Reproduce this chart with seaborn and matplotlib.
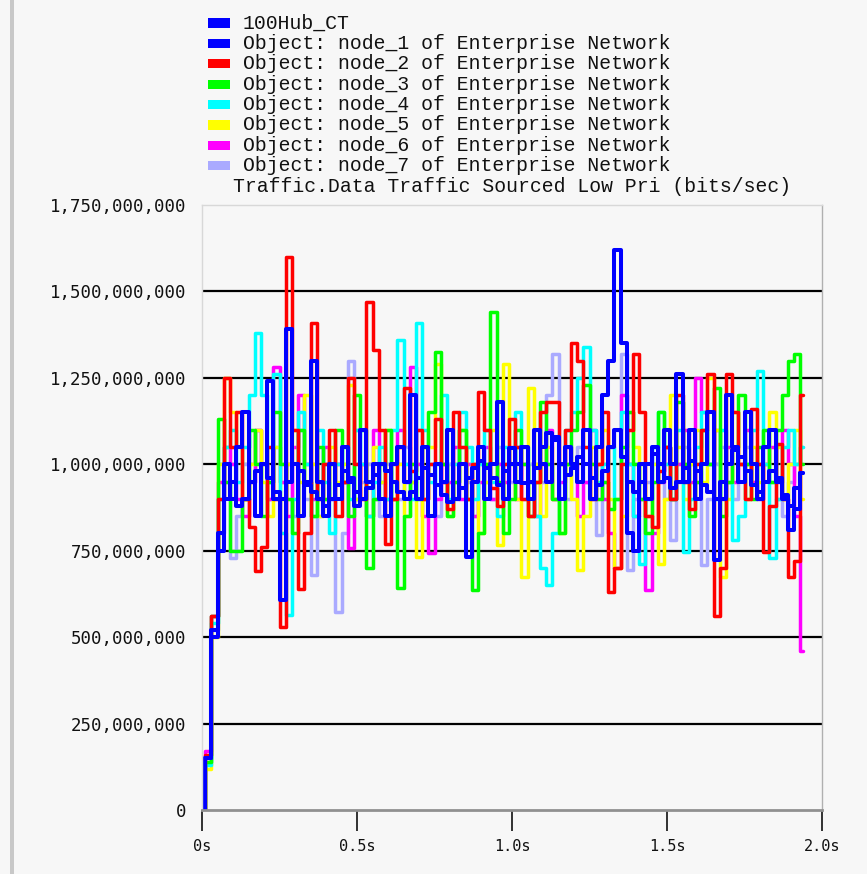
import numpy as np
import pandas as pd
import matplotlib
matplotlib.use("Agg")
import matplotlib.pyplot as plt
import seaborn as sns
from matplotlib.patches import Rectangle

sns.set_theme(style="white")
plt.rcParams['font.family'] = ['Liberation Mono', 'DejaVu Sans Mono']

# ---------------- data (values in millions of bits/sec) ----------------
series_names = [
    "100Hub_CT",
    "Object: node_1 of Enterprise Network",
    "Object: node_2 of Enterprise Network",
    "Object: node_3 of Enterprise Network",
    "Object: node_4 of Enterprise Network",
    "Object: node_5 of Enterprise Network",
    "Object: node_6 of Enterprise Network",
    "Object: node_7 of Enterprise Network",
]
series_colors = ["#0000ff", "#0000ff", "#ff0000", "#00ff00",
                 "#00ffff", "#ffff00", "#ff00ff", "#aaaaff"]

sample_step = 0.02  # seconds between samples

hub = [0, 150, 500, 750, 900, 950, 880, 900, 950, 980,
       1000, 960, 920, 900, 950, 1000, 980, 940, 920, 900,
       880, 900, 940, 980, 960, 920, 900, 930, 970, 1000,
       980, 950, 920, 900, 920, 960, 990, 970, 940, 910,
       890, 900, 930, 960, 990, 1010, 990, 960, 940, 980,
       1047, 1000, 945, 950, 990, 1050, 1090, 1070, 1000, 970,
       990, 1020, 1000, 960, 940, 980, 1050, 1100, 1020, 950,
       920, 950, 1000, 1030, 1000, 960, 930, 950, 990, 1010,
       980, 940, 920, 900, 950, 1000, 1040, 1020, 980, 940,
       920, 950, 980, 960, 910, 880, 930, 975]

node_1 = [0, 150, 520, 800, 1000, 900, 1050, 1150, 950, 850,
          1000, 1240, 900, 607, 1390, 1000, 850, 950, 1300, 950,
          850, 1000, 900, 1050, 950, 880, 1100, 950, 1000, 900,
          850, 1000, 1050, 950, 1200, 900, 1050, 850, 1000, 950,
          1100, 900, 1000, 732, 950, 1050, 900, 1000, 1180, 900,
          1000, 950, 1050, 900, 1100, 1000, 950, 1080, 900, 1050,
          1000, 950, 1100, 900, 1050, 1200, 1300, 1620, 1350, 800,
          750, 1000, 900, 1050, 950, 1100, 1000, 1260, 950, 1100,
          900, 1000, 1150, 723, 900, 1200, 1050, 950, 1150, 1000,
          900, 1050, 1100, 950, 900, 810, 870, 975]

node_2 = [0, 160, 560, 900, 1250, 1050, 1150, 900, 820, 690,
          760, 1050, 900, 530, 1600, 1100, 640, 800, 1410, 900,
          1000, 1100, 850, 950, 1250, 1000, 900, 1470, 1330, 1100,
          770, 900, 1050, 1220, 980, 1100, 900, 1000, 1130, 950,
          870, 1150, 1050, 900, 1000, 1210, 1100, 930, 880, 1000,
          1130, 1050, 900, 850, 950, 1150, 1180, 1180, 1000, 1100,
          1350, 1300, 1050, 900, 1000, 1150, 630, 700, 1000, 1100,
          1320, 1150, 850, 820, 980, 1050, 900, 1200, 950, 870,
          1000, 1100, 1260, 560, 700, 1260, 1150, 1000, 900, 1160,
          1000, 745, 880, 1060, 900, 675, 720, 1200]

node_3 = [0, 140, 560, 1130, 950, 750, 750, 900, 1100, 1000,
          850, 950, 1150, 1000, 900, 800, 1100, 950, 850, 1050,
          900, 1000, 1100, 950, 850, 1200, 1100, 700, 900, 1000,
          1100, 900, 642, 850, 1000, 900, 1050, 1150, 1325, 1000,
          850, 950, 1100, 900, 637, 800, 1000, 1440, 950, 800,
          900, 1100, 1000, 850, 950, 1180, 1000, 900, 800, 1000,
          1100, 1150, 1230, 1000, 900, 950, 870, 900, 1050, 1150,
          1000, 900, 800, 950, 1150, 1050, 900, 1180, 1000, 850,
          950, 1100, 1000, 1220, 850, 950, 1050, 1200, 1000, 900,
          1050, 1100, 950, 1100, 1200, 1300, 1320, 1000]

node_4 = [0, 130, 540, 900, 1050, 1100, 950, 1050, 1200, 1380,
          1200, 950, 1260, 800, 564, 900, 1150, 1000, 850, 1100,
          950, 800, 1000, 1050, 900, 1100, 1000, 850, 950, 1050,
          900, 1100, 1360, 1000, 900, 1410, 1100, 950, 1000, 1200,
          900, 1000, 1150, 1050, 900, 1000, 1100, 950, 850, 1050,
          1000, 1150, 1050, 950, 850, 700, 650, 800, 1000, 1100,
          1150, 1250, 1340, 1100, 950, 1000, 1050, 900, 1150, 1000,
          850, 713, 900, 1050, 1150, 1000, 900, 1100, 747, 900,
          1050, 1150, 1000, 900, 1100, 950, 780, 850, 1000, 1100,
          1270, 1000, 730, 900, 1050, 1100, 1000, 1050]

node_5 = [0, 120, 500, 1000, 1250, 1150, 1050, 900, 1000, 1100,
          950, 850, 1050, 900, 1000, 1100, 950, 1200, 1000, 850,
          900, 1050, 950, 1000, 1230, 900, 1000, 850, 1050, 950,
          1100, 900, 1000, 850, 950, 732, 900, 1050, 1290, 1000,
          850, 950, 1100, 900, 1000, 800, 950, 1100, 767, 1290,
          1000, 900, 674, 1220, 1000, 850, 1050, 900, 800, 1000,
          900, 694, 850, 1050, 1000, 1100, 900, 700, 850, 1150,
          1050, 950, 850, 1000, 713, 900, 1200, 1050, 900, 1000,
          1100, 950, 1250, 1100, 674, 900, 1150, 1000, 900, 1050,
          950, 1000, 1150, 1050, 900, 1000, 1100, 900]

node_6 = [0, 170, 560, 950, 1050, 1000, 900, 850, 950, 1100,
          1000, 900, 1280, 950, 850, 1050, 1200, 1000, 900, 950,
          1050, 900, 1000, 950, 757, 900, 1000, 850, 1100, 950,
          900, 1000, 1100, 950, 1280, 1000, 850, 743, 900, 1000,
          950, 1050, 900, 1000, 850, 950, 1050, 900, 1000, 950,
          1050, 900, 1000, 950, 850, 1000, 1100, 900, 950, 1050,
          1000, 850, 950, 1100, 1000, 900, 800, 700, 1200, 1000,
          850, 900, 636, 800, 950, 1050, 900, 1000, 1100, 950,
          1250, 1150, 1000, 1100, 900, 1050, 950, 1000, 1100, 950,
          900, 1000, 1050, 950, 1100, 1000, 850, 460]

node_7 = [0, 140, 520, 800, 950, 729, 850, 1000, 950, 1100,
          1000, 900, 1050, 950, 1000, 850, 1100, 900, 680, 850,
          1000, 900, 573, 800, 1300, 1100, 950, 1000, 900, 850,
          1000, 950, 900, 1050, 950, 1100, 900, 1000, 850, 950,
          1000, 900, 1050, 950, 850, 1000, 950, 900, 1050, 1000,
          950, 1050, 900, 1000, 1100, 950, 1200, 1320, 1000, 900,
          1000, 1050, 950, 900, 795, 950, 1050, 1100, 1320, 694,
          900, 1000, 950, 1050, 1000, 900, 780, 950, 1050, 1000,
          950, 708, 900, 1000, 1050, 950, 900, 1000, 1050, 950,
          1000, 1050, 950, 900, 850, 950, 1000, 1050]

series_values = [hub, node_1, node_2, node_3, node_4, node_5, node_6, node_7]

y_ticks = [0, 250e6, 500e6, 750e6, 1000e6, 1250e6, 1500e6, 1750e6]
x_ticks = [0.0, 0.5, 1.0, 1.5, 2.0]
x_tick_labels = ["0s", "0.5s", "1.0s", "1.5s", "2.0s"]
title_text = "Traffic.Data Traffic Sourced Low Pri (bits/sec)"

# ---------------- build long-form table ----------------
frames = []
for name, vals in zip(series_names, series_values):
    t = np.arange(len(vals)) * sample_step
    frames.append(pd.DataFrame({"t": t, "v": np.array(vals, float) * 1e6, "series": name}))
df = pd.concat(frames, ignore_index=True)

# ---------------- figure ----------------
W, H = 867, 874
bg = "#f7f7f7"
fig = plt.figure(figsize=(W / 100, H / 100), dpi=100, facecolor=bg)
ax = fig.add_axes([202 / W, (H - 810) / H, (822 - 202) / W, (810 - 205) / H])
ax.set_facecolor(bg)

# draw from last series to first so the blue lines sit on top
for name, color in reversed(list(zip(series_names, series_colors))):
    sub = df[df["series"] == name]
    lw = 2.9 if color == "#0000ff" else 2.5
    sns.lineplot(data=sub, x="t", y="v", ax=ax, color=color, linewidth=lw,
                 estimator=None, drawstyle="steps-mid", legend=False)

ax.set_xlim(0, 2.0)
ax.set_ylim(0, 1.75e9)
ax.set_xlabel("")
ax.set_ylabel("")

ax.set_yticks(y_ticks)
ax.set_yticklabels([f"{int(v):,}" for v in y_ticks],
                   fontfamily="DejaVu Sans Mono", fontsize=12.5, color="#111111")
ax.tick_params(axis="y", length=0, pad=11)
ax.set_xticks(x_ticks)
ax.set_xticklabels(x_tick_labels, fontfamily="DejaVu Sans Mono", fontsize=11, color="#111111")
ax.tick_params(axis="x", length=15, width=1.3, color="#222222", direction="out", pad=6,
               bottom=True)

ax.yaxis.grid(True, color="black", linewidth=1.6)
ax.set_axisbelow(True)
for gl, v in zip(ax.get_ygridlines(), y_ticks):
    if v in (0, 1750e6):
        gl.set_visible(False)

for side in ("left", "top", "right"):
    ax.spines[side].set_color("#d8d8d8")
    ax.spines[side].set_linewidth(1.0)
ax.spines["right"].set_color("#b0b0b0")
ax.spines["bottom"].set_color("#909090")
ax.spines["bottom"].set_linewidth(2.0)

ax.set_title(title_text, fontsize=14.2, color="#111111", pad=9)

# legend (manual, above the plot)
for i, (name, color) in enumerate(zip(series_names, series_colors)):
    yc = 23 + 20.4 * i
    fig.patches.append(Rectangle((208 / W, 1 - (yc + 4.5) / H), 22 / W, 9 / H,
                                 transform=fig.transFigure, facecolor=color,
                                 edgecolor="none"))
    fig.text(243 / W, 1 - yc / H, name, fontsize=14.2, color="#111111",
             va="center", ha="left")

# window frame bar on the left
fig.patches.append(Rectangle((10 / W, 0), 4 / W, 1, transform=fig.transFigure,
                             facecolor="#c8c8c8", edgecolor="none"))

fig.savefig("out.png", dpi=100, facecolor=bg)
